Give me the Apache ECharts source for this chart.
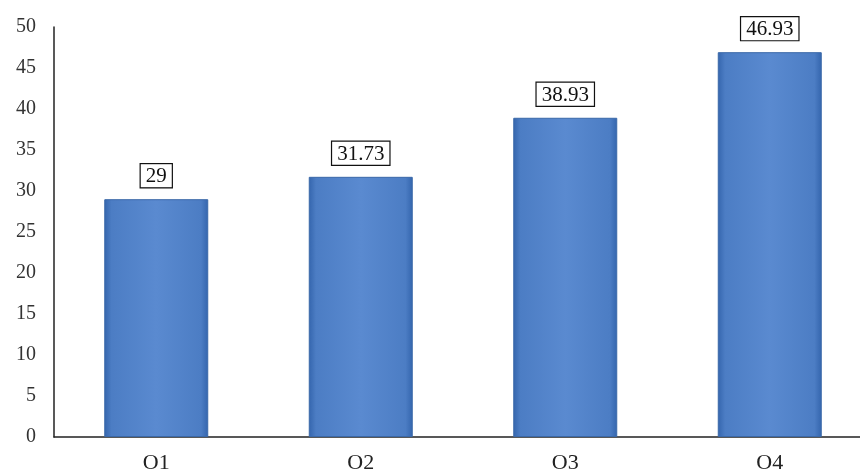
<!DOCTYPE html>
<html>
<head>
<meta charset="utf-8">
<script src="https://cdn.jsdelivr.net/npm/echarts@6/dist/echarts.min.js"></script>
<style>
  html, body { margin: 0; padding: 0; background: #fff; }
  #chart { width: 860px; height: 471px; }
</style>
</head>
<body>
<div id="chart"></div>
<script>
var categories = ['O1', 'O2', 'O3', 'O4'];
var values = [29, 31.73, 38.93, 46.93];

var myChart = echarts.init(document.getElementById('chart'));
var font = '"Liberation Serif", "DejaVu Serif", serif';
var option = {
    animation: false,
    grid: { left: 54, right: -12, top: 27, bottom: 34, outerBoundsMode: 'none' },
    xAxis: {
        type: 'category',
        data: categories,
        axisLine: { lineStyle: { color: '#222', width: 1.5 } },
        axisTick: { show: false },
        axisLabel: { color: '#222', fontFamily: font, fontSize: 22, margin: 15 }
    },
    yAxis: {
        type: 'value',
        min: 0,
        max: 50,
        interval: 5,
        axisLine: { show: true, lineStyle: { color: '#222', width: 1.5 } },
        axisTick: { show: false },
        splitLine: { show: false },
        axisLabel: { color: '#333', fontFamily: font, fontSize: 20, margin: 18 }
    },
    series: [{
        type: 'bar',
        data: values,
        barWidth: 104,
        itemStyle: {
            color: new echarts.graphic.LinearGradient(0, 0, 1, 0, [
                { offset: 0, color: '#3465ad' },
                { offset: 0.07, color: '#4c7dc4' },
                { offset: 0.5, color: '#5a8ad0' },
                { offset: 0.93, color: '#4c7dc4' },
                { offset: 1, color: '#3465ad' }
            ]),
            borderColor: '#3a68a8',
            borderWidth: 1
        },
        label: {
            show: true,
            position: 'top',
            distance: 12,
            color: '#111',
            fontFamily: font,
            fontSize: 21,
            backgroundColor: '#fff',
            borderColor: '#111',
            borderWidth: 1.2,
            padding: [2, 5, 0, 5]
        }
    }]
};
myChart.setOption(option);
window.addEventListener('resize', function () {
    myChart.resize();
});
</script>
</body>
</html>
